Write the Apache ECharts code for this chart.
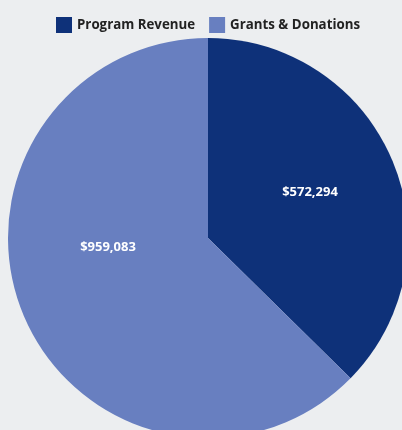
<!DOCTYPE html>
<html><head><meta charset="utf-8">
<style>html,body{margin:0;padding:0;background:#eceef0;}#c{width:402px;height:430px;}</style>
<script src="https://cdn.jsdelivr.net/npm/echarts@6/dist/echarts.min.js"></script>
</head><body><div id="c"></div>
<script>
const categories = ['Program Revenue', 'Grants & Donations'];
const values = [572294, 959083];
const colors = ['#0e3179', '#687fc0'];
const labelNudge = [[7, -6], [-5, -31]];

const chart = echarts.init(document.getElementById('c'));
chart.setOption({
  backgroundColor: '#eceef0',
  animation: false,
  legend: {
    top: 12, left: 51,
    itemWidth: 16, itemHeight: 16, itemGap: 14,
    icon: 'rect',
    textStyle: { fontFamily: 'Open Sans', fontWeight: 'bold', fontSize: 13.3, color: '#222' },
    data: categories
  },
  series: [{
    type: 'pie',
    center: [208, 238],
    radius: 200,
    startAngle: 90,
    clockwise: true,
    data: categories.map((n, i) => ({ name: n, value: values[i], itemStyle: { color: colors[i] } })),
    label: {
      position: 'inside',
      formatter: p => '$' + p.value.toLocaleString('en-US'),
      color: '#fff', fontFamily: 'Open Sans', fontWeight: 'bold', fontSize: 13
    },
    labelLayout: p => ({ dx: labelNudge[p.dataIndex][0], dy: labelNudge[p.dataIndex][1] }),
    labelLine: { show: false },
    emphasis: { disabled: true }
  }]
});
</script></body></html>
